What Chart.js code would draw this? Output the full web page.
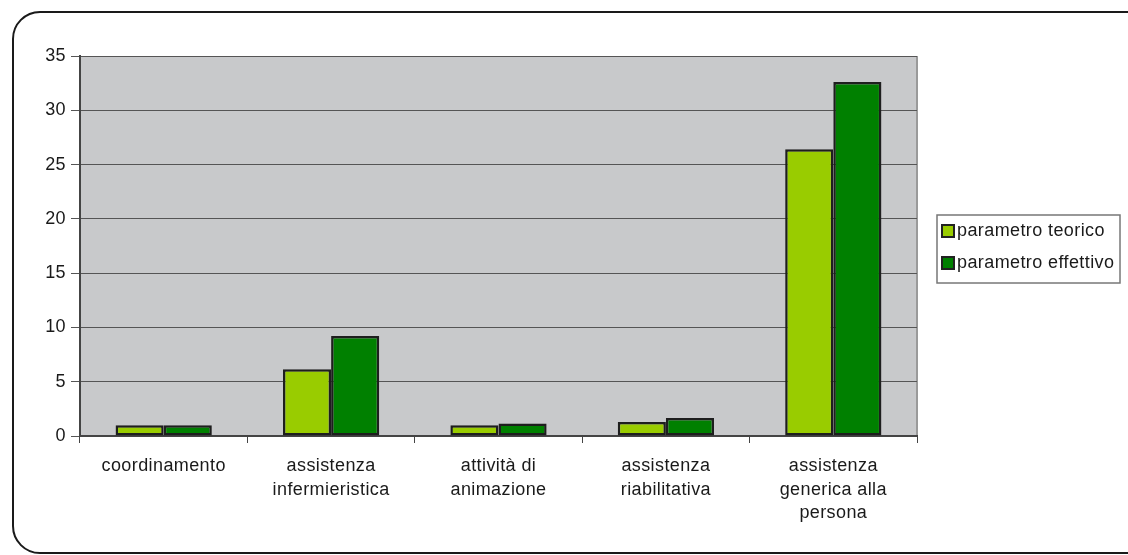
<!DOCTYPE html>
<html>
<head>
<meta charset="utf-8">
<script src="https://cdn.jsdelivr.net/npm/chart.js@4/dist/chart.umd.min.js"></script>
<style>
  html, body { margin: 0; padding: 0; background: #fff; overflow: hidden; }
  #wrap { position: relative; width: 1128px; height: 555px; }
  #frame { position: absolute; left: 12px; top: 11px; width: 1200px; height: 543px;
           border: 2px solid #1a1a1a; border-radius: 28px; box-sizing: border-box; }
  #chartBox { position: absolute; left: 0; top: 0; width: 1128px; height: 555px; }
</style>
</head>
<body>
<div id="wrap">
  <div id="frame"></div>
  <div id="chartBox"><canvas id="barChart"></canvas></div>
</div>
<script>
const categories = [
    'coordinamento',
    ['assistenza', 'infermieristica'],
    ['attività di', 'animazione'],
    ['assistenza', 'riabilitativa'],
    ['assistenza', 'generica alla', 'persona']
];
const seriesNames = ['parametro teorico', 'parametro effettivo'];
const teorico = [1.0, 6.15, 1.0, 1.3, 26.4];
const effettivo = [1.0, 9.2, 1.15, 1.65, 32.6];
const yTicks = [0, 5, 10, 15, 20, 25, 30, 35];

const colors = ['#99cc00', '#008000'];
const font = { family: 'Liberation Sans, Arial, sans-serif', size: 18, lineHeight: 1.32 };

// the original text is a bit wider than Arial, so add a little letter spacing
const wideText = {
    id: 'wideText',
    beforeUpdate(chart) { chart.ctx.letterSpacing = '0.4px'; },
    beforeDraw(chart) { chart.ctx.letterSpacing = '0.4px'; }
};

// grey plot area background + light right border
const plotBackground = {
    id: 'plotBackground',
    beforeDraw(chart) {
        const { ctx, chartArea: a } = chart;
        ctx.save();
        ctx.fillStyle = '#c8c9cb';
        ctx.fillRect(a.left, a.top, a.right - a.left, a.bottom - a.top);
        ctx.strokeStyle = '#9a9a9a';
        ctx.lineWidth = 2;
        ctx.beginPath();
        ctx.moveTo(a.right, a.top);
        ctx.lineTo(a.right, a.bottom);
        ctx.stroke();
        ctx.restore();
    }
};

// boxed legend on the right like the original
const boxLegend = {
    id: 'boxLegend',
    afterDraw(chart) {
        const ctx = chart.ctx;
        const x = 937, y = 215, w = 183, h = 68;
        ctx.save();
        ctx.strokeStyle = '#777';
        ctx.lineWidth = 1.5;
        ctx.strokeRect(x, y, w, h);
        ctx.font = `${font.size}px ${font.family}`;
        ctx.textBaseline = 'middle';
        chart.data.datasets.forEach((ds, i) => {
            const cy = y + 16 + i * 32;
            ctx.fillStyle = ds.backgroundColor;
            ctx.fillRect(x + 5, cy - 6, 12, 12);
            ctx.strokeStyle = '#222';
            ctx.lineWidth = 2;
            ctx.strokeRect(x + 5, cy - 6, 12, 12);
            ctx.fillStyle = '#1a1a1a';
            ctx.fillText(ds.label, x + 20, cy);
        });
        ctx.restore();
    }
};

new Chart(document.getElementById('barChart'), {
    type: 'bar',
    data: {
        labels: categories,
        datasets: [
            {
                label: seriesNames[0],
                data: teorico,
                backgroundColor: colors[0],
                borderColor: '#1e1e1e',
                borderWidth: 2.5,
                borderSkipped: false
            },
            {
                label: seriesNames[1],
                data: effettivo,
                backgroundColor: colors[1],
                borderColor: '#1e1e1e',
                borderWidth: 2.5,
                borderSkipped: false
            }
        ]
    },
    options: {
        responsive: true,
        maintainAspectRatio: false,
        animation: false,
        datasets: { bar: { barPercentage: 1, categoryPercentage: 0.575 } },
        layout: { padding: { top: 56, right: 211, left: 0, bottom: 0 } },
        plugins: {
            legend: { display: false },
            tooltip: { enabled: false }
        },
        scales: {
            y: {
                min: 0,
                max: 35,
                afterFit: scale => { scale.width = 80; },
                afterBuildTicks: scale => { scale.ticks = yTicks.map(v => ({ value: v })); },
                ticks: { color: '#1a1a1a', font: font, padding: 5 },
                grid: { color: '#555', lineWidth: 1, tickLength: 9, drawTicks: true },
                border: { color: '#444', width: 2 }
            },
            x: {
                afterFit: scale => { scale.height = 119; },
                ticks: { color: '#1a1a1a', font: font, padding: 11, maxRotation: 0 },
                grid: { offset: true, drawOnChartArea: false, color: '#444', tickLength: 7 },
                border: { color: '#444', width: 2 }
            }
        }
    },
    plugins: [wideText, plotBackground, boxLegend]
});
</script>
</body>
</html>
